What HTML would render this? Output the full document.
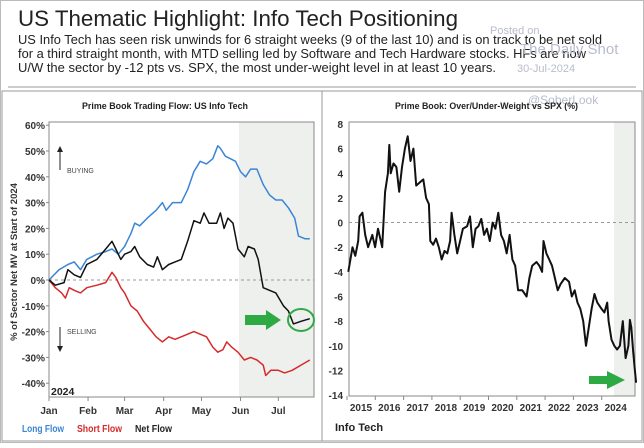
<!DOCTYPE html>
<html><head><meta charset="utf-8"><style>
body{margin:0;background:#fff;width:644px;height:443px;overflow:hidden;font-family:"Liberation Sans",sans-serif}
svg text{font-family:"Liberation Sans",sans-serif}
</style></head><body>
<svg id="svg" width="644" height="443" xmlns="http://www.w3.org/2000/svg">
<rect x="0.5" y="0.5" width="643" height="442" fill="#fff" stroke="#bbb"/>
<text x="18" y="26" font-size="22" fill="#222" textLength="440" lengthAdjust="spacingAndGlyphs">US Thematic Highlight: Info Tech Positioning</text>
<g font-size="12.5" fill="#222">
<text x="18" y="44" textLength="584" lengthAdjust="spacingAndGlyphs">US Info Tech has seen risk unwinds for 6 straight weeks (9 of the last 10) and is on track to be net sold</text>
<text x="18" y="58" textLength="568" lengthAdjust="spacingAndGlyphs">for a third straight month, with MTD selling led by Software and Tech Hardware stocks. HFs are now</text>
<text x="18" y="72" textLength="478" lengthAdjust="spacingAndGlyphs">U/W the sector by -12 pts vs. SPX, the most under-weight level in at least 10 years.</text>
</g>
<g fill="#b8bccc">
<text x="490" y="34" font-size="11">Posted on</text>
<text x="520" y="54" font-size="15">The Daily Shot</text>
<text x="517" y="72" font-size="11">30-Jul-2024</text>
<text x="528" y="104" font-size="12">@SoberLook</text>
</g>
<line x1="8" y1="87" x2="636" y2="87" stroke="#ccc" stroke-width="2"/>
<rect x="2" y="91" width="640" height="350" fill="none" stroke="#999"/>
<line x1="322" y1="91" x2="322" y2="441" stroke="#999"/>

<text x="82" y="109" font-size="9.5" font-weight="bold" fill="#222" textLength="166" lengthAdjust="spacingAndGlyphs">Prime Book Trading Flow: US Info Tech</text>
<text x="395" y="109" font-size="9.5" font-weight="bold" fill="#222" textLength="183" lengthAdjust="spacingAndGlyphs">Prime Book: Over/Under-Weight vs SPX (%)</text>
<g id="left"></g><g id="right"></g>
</svg>
<script>
// ---- Left chart data (day of 2024, % values)
const leftMonths=["Jan","Feb","Mar","Apr","May","Jun","Jul"];
const leftMonthDays=[0,31,60,91,121,152,182];
const leftYTicks=[60,50,40,30,20,10,0,-10,-20,-30,-40];
const longDays=[0,8,15,20,25,30,38,45,50,55,60,65,68,72,78,85,90,93,98,105,110,115,120,125,130,134,136,140,148,152,156,160,165,170,175,180,185,190,195,198,203,207];
const longVals=[0,4,6,7,4,8,10,11,12,10,13,18,22,21,24,27,30,27,30,30,35,42,46,45,47,52,51,48,46,42,40,43,43,37,33,31,31,28,24,17,16,16];
const netDays=[0,5,12,15,20,25,30,38,45,50,53,57,60,65,68,72,78,83,86,90,95,100,105,110,115,120,123,127,133,136,139,142,146,150,155,158,163,166,170,175,180,186,190,194,200,207];
const netVals=[0,-2,-1,4,2,1,6,8,12,15,12,8,10,11,13,9,6,5,9,4,6,7,8,15,23,22,26,22,22,26,20,24,22,12,9,13,12,8,-3,-4,-5,-10,-12,-17,-16,-15];
const shortDays=[0,5,10,13,16,20,25,30,38,45,50,53,57,60,65,70,75,80,85,90,95,100,105,110,115,120,125,130,134,138,141,145,150,155,160,165,170,172,176,182,187,193,200,207];
const shortVals=[0,-3,-5,-7,-3,-4,-5,-3,-2,-1,3,1,-3,-5,-10,-12,-16,-19,-22,-24,-22,-23,-22,-21,-20,-21,-22,-26,-28,-27,-24,-26,-28,-31,-30,-31,-33,-37,-35,-35,-36,-35,-33,-31];
// ---- Right chart data (year, % over/under-weight)
const rightYears=[2015,2016,2017,2018,2019,2020,2021,2022,2023,2024];
const rightYTicks=[8,6,4,2,0,-2,-4,-6,-8,-10,-12,-14];
const owDates=[2014.55,2014.7,2014.8,2014.9,2014.95,2015.05,2015.15,2015.25,2015.4,2015.5,2015.6,2015.75,2015.85,2015.95,2016.0,2016.05,2016.15,2016.25,2016.35,2016.45,2016.55,2016.65,2016.75,2016.85,2016.95,2017.1,2017.2,2017.3,2017.4,2017.45,2017.55,2017.65,2017.75,2017.85,2017.95,2018.05,2018.15,2018.2,2018.3,2018.4,2018.5,2018.6,2018.75,2018.85,2018.95,2019.05,2019.15,2019.25,2019.35,2019.45,2019.55,2019.65,2019.75,2019.85,2019.95,2020.05,2020.15,2020.25,2020.35,2020.45,2020.55,2020.7,2020.85,2020.95,2021.05,2021.2,2021.3,2021.4,2021.45,2021.55,2021.65,2021.75,2021.85,2021.95,2022.05,2022.2,2022.35,2022.45,2022.55,2022.65,2022.75,2022.85,2022.95,2023.05,2023.15,2023.25,2023.35,2023.5,2023.6,2023.7,2023.75,2023.85,2023.95,2024.05,2024.15,2024.25,2024.35,2024.45,2024.5,2024.55,2024.62,2024.68,2024.72];
const owVals=[-4,-2,-2.7,-1.5,0.5,0.8,-1,-2,-1,-2,-0.5,-2,2.5,4,6.3,4,4.8,4.5,2.5,4.5,6,7,5,6,3,3.3,3.5,2,1.5,-1.5,-1.8,-1.3,-2,-3,-2.3,-2.5,-1.5,0.8,-1,-2.5,-1.5,-0.5,-0.3,0.5,-2,-0.5,-0.3,0.3,-1,-0.5,-1.5,0,-0.5,0.8,-1,-1.5,-2.5,-1,-3,-3.5,-5.5,-5.5,-6,-4.5,-3.5,-3.2,-3.5,-4,-1.5,-2.5,-3,-3.5,-4.5,-5.5,-5,-4.5,-4.8,-6,-5.5,-6.5,-7,-8,-10,-8.5,-7,-5.8,-6.5,-7,-7.3,-6.5,-8,-9.5,-10,-10.3,-10,-8,-11,-10,-7.9,-8.5,-10.5,-12,-13];

const NS="http://www.w3.org/2000/svg";
function mk(parent,tag,attrs,txt){const e=document.createElementNS(NS,tag);for(const k in attrs)e.setAttribute(k,attrs[k]);if(txt!==undefined)e.textContent=txt;parent.appendChild(e);return e;}

// Left axes
const L=document.getElementById('left');
const lx=d=>49+d*1.26;
const ly=v=>280-v*2.58;
let r=mk(L,'rect',{x:239,y:122,width:75,height:275,fill:'#eef0ee'});


r=mk(L,'rect',{x:49,y:122,width:265,height:275,fill:'none',stroke:'#888'});


let zl=mk(L,'line',{x1:49,x2:314,y1:ly(0),y2:ly(0),stroke:'#999','stroke-dasharray':'3,3'});


leftYTicks.forEach(v=>{
  const t=mk(L,'text',{x:45,y:ly(v)+4,'font-size':10,'font-weight':'bold',fill:'#333','text-anchor':'end'},v+'%');
  
  
  mk(L,'line',{x1:46,x2:49,y1:ly(v),y2:ly(v),stroke:'#888'});
});
leftMonths.forEach((m,i)=>{
  const t=mk(L,'text',{x:lx(leftMonthDays[i]),y:414,'font-size':10,'font-weight':'bold',fill:'#333','text-anchor':'middle'},m);
  
  
  mk(L,'line',{x1:lx(leftMonthDays[i]),x2:lx(leftMonthDays[i]),y1:397,y2:401,stroke:'#888'});
});
function series(parent,xs,ys,fx,fy,color,name,w){
  const p=mk(parent,'polyline',{points:xs.map((x,i)=>fx(x).toFixed(1)+','+fy(ys[i]).toFixed(1)).join(' '),fill:'none',stroke:color,'stroke-width':w||1.5,'stroke-linejoin':'round'});
  
  
}
series(L,longDays,longVals,lx,ly,'#3a85d6','long-flow-line');
series(L,shortDays,shortVals,lx,ly,'#d62a2a','short-flow-line');
series(L,netDays,netVals,lx,ly,'#111','net-flow-line');
let yt=mk(L,'text',{x:0,y:0,'font-size':9.5,'font-weight':'bold',fill:'#333','text-anchor':'middle',transform:'translate(17,262) rotate(-90)'},'% of Sector Net MV at Start of 2024');


mk(L,'line',{x1:60,x2:60,y1:170,y2:150,stroke:'#222'});
mk(L,'path',{d:'M57,152 L60,146 L63,152 Z',fill:'#222'});
let b=mk(L,'text',{x:67,y:173,'font-size':7,fill:'#444'},'BUYING');


mk(L,'line',{x1:60,x2:60,y1:327,y2:348,stroke:'#222'});
mk(L,'path',{d:'M57,346 L60,352 L63,346 Z',fill:'#222'});
b=mk(L,'text',{x:67,y:334,'font-size':7,fill:'#444'},'SELLING');


b=mk(L,'text',{x:51,y:395,'font-size':10.5,'font-weight':'bold',fill:'#222'},'2024');


b=mk(L,'path',{d:'M245,315 L266,315 L266,310 L281,320 L266,330 L266,325 L245,325 Z',fill:'#2eaa44'});


b=mk(L,'ellipse',{cx:301,cy:320,rx:13,ry:11,fill:'none',stroke:'#2eaa44','stroke-width':2});


[['Long Flow','#3a85d6',22,42],['Short Flow','#d62a2a',77,45],['Net Flow','#222',135,37]].forEach(([t,c,x,w])=>{
  const e=mk(L,'text',{x:x,y:432,'font-size':10,'font-weight':'bold',fill:c,textLength:w,lengthAdjust:'spacingAndGlyphs'},t);
  
  
});

// Right chart
const R=document.getElementById('right');
const rx=y=>361+(y-2015)*28.3;
const ry=v=>124+(8-v)*12.32;
r=mk(R,'rect',{x:614,y:122,width:21,height:274,fill:'#eef0ee'});


r=mk(R,'rect',{x:349,y:122,width:286,height:274,fill:'none',stroke:'#888'});


zl=mk(R,'line',{x1:349,x2:635,y1:ry(0),y2:ry(0),stroke:'#999','stroke-dasharray':'3,3'});


rightYTicks.forEach(v=>{
  const t=mk(R,'text',{x:343,y:ry(v)+4,'font-size':10,'font-weight':'bold',fill:'#333','text-anchor':'end'},v);
  
  
});
rightYears.forEach(y=>{
  const t=mk(R,'text',{x:rx(y),y:411,'font-size':10,'font-weight':'bold',fill:'#333','text-anchor':'middle'},y);
  
  
  mk(R,'line',{x1:rx(y)-14,x2:rx(y)-14,y1:396,y2:400,stroke:'#888'});
});
series(R,owDates,owVals,rx,ry,'#111','overweight-line',2);
b=mk(R,'path',{d:'M589,376 L607,376 L607,371 L625,380 L607,389 L607,384 L589,384 Z',fill:'#2eaa44'});


b=mk(R,'text',{x:335,y:431,'font-size':11,'font-weight':'bold',fill:'#222'},'Info Tech');


</script>
</body></html>
